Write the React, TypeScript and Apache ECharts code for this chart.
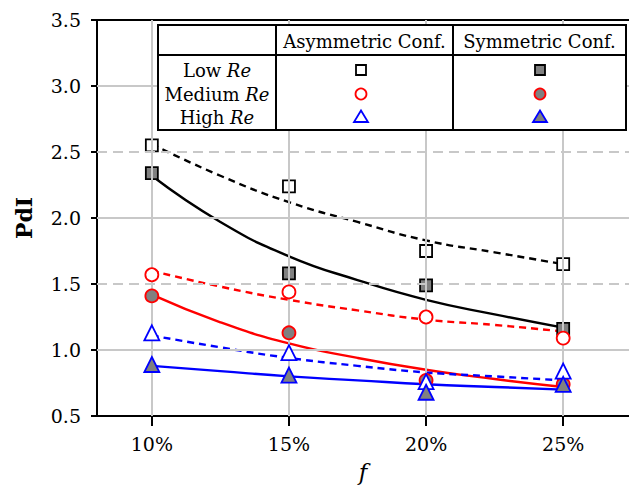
import React, { useEffect, useRef } from "react";
import * as echarts from "echarts";

// ---- data ----
const fTicks = [10, 15, 20, 25];
const asymLow = [2.55, 2.24, 1.75, 1.65];
const symLow = [2.34, 1.58, 1.49, 1.16];
const asymMed = [1.57, 1.44, 1.25, 1.09];
const symMed = [1.41, 1.13, 0.77, 0.74];
const asymHigh = [1.13, 0.98, 0.76, 0.84];
const symHigh = [0.89, 0.81, 0.68, 0.74];

// trend curves
const fitF = [10, 12.5, 15, 17.5, 20, 22.5, 25];
const fitAsymLow = [2.56, 2.32, 2.12, 1.97, 1.83, 1.74, 1.65];
const fitSymLow = [2.32, 1.97, 1.71, 1.53, 1.38, 1.27, 1.17];
const fitAsymMed = [1.6, 1.48, 1.38, 1.3, 1.23, 1.19, 1.14];
const fitSymMed = [1.42, 1.21, 1.05, 0.94, 0.85, 0.78, 0.72];
const fitAsymHigh = [1.11, 1.02, 0.94, 0.88, 0.83, 0.8, 0.77];
const fitSymHigh = [0.88, 0.84, 0.8, 0.77, 0.74, 0.72, 0.7];

const yTicksSolid = [1.0, 2.0, 3.0];
const yTicksDashed = [1.5, 2.5];

const rowLabels = ["Low", "Medium", "High"];
const colHeaders = ["Asymmetric Conf.", "Symmetric Conf."];

const FONT = "DejaVu Serif";
const GRID_GRAY = "#c8c8c8";
const FILL_GRAY = "#808080";

const pairs = (xs: number[], ys: number[]) => xs.map((x, i) => [x, ys[i]]);

export default function App() {
  const ref = useRef<HTMLDivElement>(null);

  useEffect(() => {
    document.body.style.margin = "0";
    if (!ref.current) return;
    const chart = echarts.init(ref.current, null, { renderer: "svg" });

    const scatter = (
      name: string,
      ys: number[],
      symbol: string,
      size: number,
      stroke: string,
      fill: string,
      z: number
    ) => ({
      name,
      type: "scatter",
      data: pairs(fTicks, ys),
      symbol,
      symbolSize: size,
      itemStyle: { color: fill, borderColor: stroke, borderWidth: 1.8, opacity: 1 },
      z,
    });

    const trend = (name: string, ys: number[], color: string, dashed: boolean) => ({
      name,
      type: "line",
      data: pairs(fitF, ys),
      smooth: true,
      showSymbol: false,
      symbol: "none",
      lineStyle: { color, width: 2.4, type: dashed ? [7, 5] : "solid" },
      z: 3,
    });

    const markData: any[] = [
      ...fTicks.map((v) => ({
        xAxis: v,
        lineStyle: { color: GRID_GRAY, width: 2, type: "solid" },
      })),
      ...yTicksSolid.map((v) => ({
        yAxis: v,
        lineStyle: { color: GRID_GRAY, width: 2, type: "solid" },
      })),
      ...yTicksDashed.map((v) => ({
        yAxis: v,
        lineStyle: { color: GRID_GRAY, width: 2, type: [10, 6] },
      })),
    ];

    // ---- legend table ----
    const tX = 158,
      tY = 25,
      tW = 468,
      tH = 105;
    const headerY = 55;
    const col1 = 276,
      col2 = 453;
    const rowYs = [70, 94, 117];
    const mkX = [361, 540];

    const lineEl = (x1: number, y1: number, x2: number, y2: number) => ({
      type: "line",
      shape: { x1, y1, x2, y2 },
      style: { stroke: "#000", lineWidth: 2 },
      z: 101,
    });

    const legendMarker = (row: number, col: number) => {
      const x = mkX[col];
      const y = rowYs[row];
      const filled = col === 1;
      const fill = filled ? FILL_GRAY : "#fff";
      if (row === 0) {
        return {
          type: "rect",
          shape: { x: x - 5, y: y - 5, width: 10, height: 10 },
          style: { fill, stroke: "#000", lineWidth: 1.8 },
          z: 102,
        };
      }
      if (row === 1) {
        return {
          type: "circle",
          shape: { cx: x, cy: y, r: 5.5 },
          style: { fill, stroke: "#ff0000", lineWidth: 1.8 },
          z: 102,
        };
      }
      return {
        type: "polygon",
        shape: {
          points: [
            [x, y - 6.5],
            [x + 7, y + 5],
            [x - 7, y + 5],
          ],
        },
        style: { fill, stroke: "#0000ff", lineWidth: 1.8 },
        z: 102,
      };
    };

    const graphics: any[] = [
      {
        type: "rect",
        shape: { x: tX, y: tY, width: tW, height: tH },
        style: { fill: "#fff", stroke: "#000", lineWidth: 2 },
        z: 100,
      },
      lineEl(tX, headerY, tX + tW, headerY),
      lineEl(col1, tY, col1, tY + tH),
      lineEl(col2, tY, col2, tY + tH),
      ...colHeaders.map((t, i) => ({
        type: "text",
        x: i === 0 ? (col1 + col2) / 2 : (col2 + tX + tW) / 2,
        y: (tY + headerY) / 2 + 1,
        style: {
          text: t,
          fontFamily: FONT,
          fontSize: 18,
          fill: "#000",
          align: "center",
          verticalAlign: "middle",
        },
        z: 102,
      })),
      ...rowLabels.map((t, i) => ({
        type: "text",
        x: (tX + col1) / 2,
        y: rowYs[i],
        style: {
          text: `{n|${t} }{i|Re}`,
          align: "center",
          verticalAlign: "middle",
          rich: {
            n: { fontFamily: FONT, fontSize: 18, fill: "#000" },
            i: { fontFamily: FONT, fontSize: 18, fontStyle: "italic", fill: "#000" },
          },
        },
        z: 102,
      })),
      ...[0, 1, 2].flatMap((r) => [legendMarker(r, 0), legendMarker(r, 1)]),
    ];

    chart.setOption({
      animation: false,
      backgroundColor: "#fff",
      grid: { left: 97, top: 20, right: 0, bottom: 86, containLabel: false },
      xAxis: [
        {
          type: "value",
          min: 8,
          max: 27.4,
          name: "f",
          nameLocation: "middle",
          nameGap: 44,
          nameTextStyle: { fontFamily: FONT, fontSize: 23, fontStyle: "italic", color: "#000" },
          axisLine: { show: true, onZero: false, lineStyle: { color: "#000", width: 2 } },
          axisTick: {
            show: true,
            length: 10,
            customValues: fTicks,
            lineStyle: { color: "#000", width: 2 },
          },
          axisLabel: {
            customValues: fTicks,
            formatter: (v: number) => `${v}%`,
            fontFamily: FONT,
            fontSize: 19,
            color: "#000",
            margin: 18,
          },
          splitLine: { show: false },
        },
        {
          type: "value",
          position: "top",
          min: 8,
          max: 27.4,
          axisLine: { show: true, onZero: false, lineStyle: { color: "#000", width: 2 } },
          axisTick: { show: false },
          axisLabel: { show: false },
          splitLine: { show: false },
        },
      ],
      yAxis: {
        type: "value",
        min: 0.5,
        max: 3.5,
        interval: 0.5,
        name: "PdI",
        nameLocation: "middle",
        nameGap: 62,
        nameTextStyle: { fontFamily: FONT, fontSize: 22, fontWeight: "bold", color: "#000" },
        axisLine: { show: true, onZero: false, lineStyle: { color: "#000", width: 2 } },
        axisTick: { show: true, length: 6, lineStyle: { color: "#000", width: 2 } },
        axisLabel: {
          formatter: (v: number) => v.toFixed(1),
          fontFamily: FONT,
          fontSize: 19,
          color: "#000",
          margin: 16,
        },
        splitLine: { show: false },
      },
      series: [
        {
          name: "grid",
          type: "line",
          data: [],
          z: 1,
          silent: true,
          markLine: {
            silent: true,
            symbol: ["none", "none"],
            label: { show: false },
            animation: false,
            data: markData,
          },
        },
        trend("fit asym low", fitAsymLow, "#000", true),
        trend("fit sym low", fitSymLow, "#000", false),
        trend("fit asym med", fitAsymMed, "#ff0000", true),
        trend("fit sym med", fitSymMed, "#ff0000", false),
        trend("fit asym high", fitAsymHigh, "#0000ff", true),
        trend("fit sym high", fitSymHigh, "#0000ff", false),
        scatter("Low Re asym", asymLow, "rect", 12, "#000", "#fff", 4),
        scatter("Low Re sym", symLow, "rect", 12, "#000", FILL_GRAY, 4),
        scatter("Medium Re asym", asymMed, "circle", 13, "#ff0000", "#fff", 5),
        scatter("Medium Re sym", symMed, "circle", 13, "#ff0000", FILL_GRAY, 5),
        scatter("High Re asym", asymHigh, "triangle", 15, "#0000ff", "#fff", 6),
        scatter("High Re sym", symHigh, "triangle", 15, "#0000ff", FILL_GRAY, 6),
      ],
      graphic: graphics,
    });

    return () => chart.dispose();
  }, []);

  return <div ref={ref} style={{ width: 629, height: 502 }} />;
}
